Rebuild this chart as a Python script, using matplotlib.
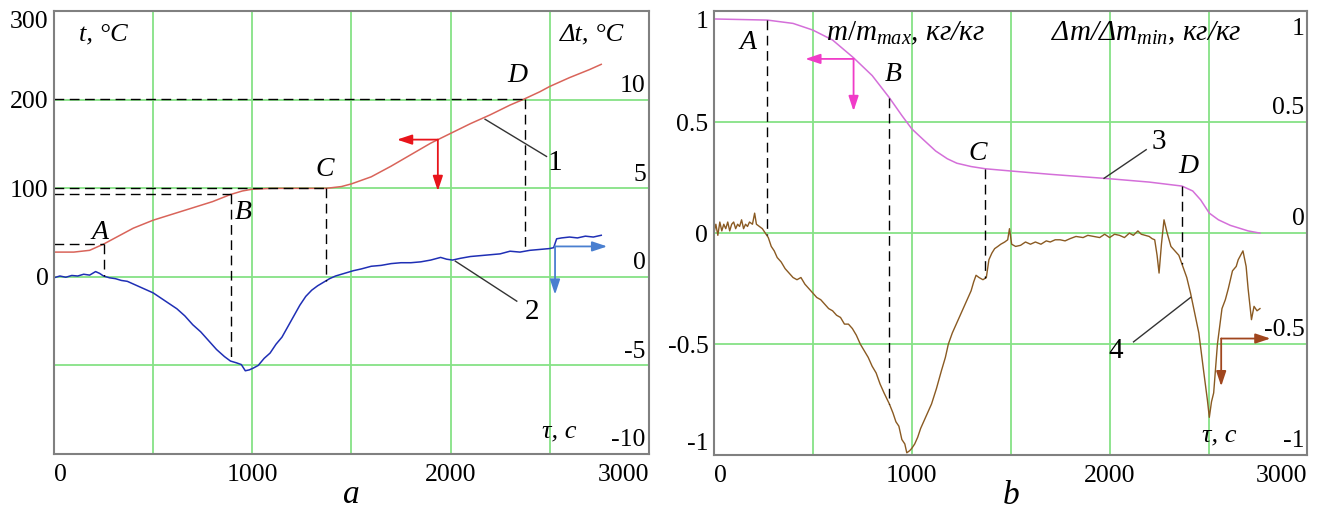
import numpy as np
import matplotlib.pyplot as plt

plt.rcParams['font.family'] = ['Liberation Serif', 'DejaVu Serif']
plt.rcParams['mathtext.fontset'] = 'custom'
plt.rcParams['mathtext.it'] = 'Liberation Serif:italic'
plt.rcParams['mathtext.rm'] = 'Liberation Serif'

# ---- panel a : temperature t (curve 1) and temperature difference dt (curve 2)
tau_t = [0, 100, 180, 250, 300, 400, 500, 600, 700, 800, 890, 950, 1000, 1100, 1200,
         1300, 1373, 1450, 1500, 1600, 1700, 1800, 1900, 2000, 2100, 2200, 2300, 2373,
         2450, 2500, 2600, 2700, 2760]
t_val = [28, 28, 30, 37, 43, 55, 64, 71, 78, 85, 93, 97, 99, 100, 100,
         100, 100, 102, 105, 113, 125, 138, 151, 162, 173, 183, 194, 201,
         209, 215, 225, 234, 240]

tau_dt = [0, 30, 60, 90, 120, 150, 180, 210, 230, 250, 280, 310, 340, 370, 400, 430,
          460, 500, 540, 580, 620, 660, 700, 740, 780, 820, 860, 890, 920, 945, 965,
          985, 1005, 1030, 1060, 1090, 1120, 1150, 1180, 1210, 1240, 1270, 1300, 1330,
          1360, 1390, 1420, 1450, 1480, 1510, 1550, 1600, 1650, 1700, 1750, 1800, 1850,
          1900, 1950, 1980, 2010, 2050, 2100, 2150, 2200, 2250, 2300, 2350, 2400, 2450,
          2500, 2520, 2535, 2560, 2600, 2640, 2680, 2720, 2760]
dt_val = [-0.05, 0.05, -0.02, 0.08, 0.05, 0.15, 0.1, 0.3, 0.2, 0.05, -0.05, -0.1,
          -0.2, -0.25, -0.4, -0.55, -0.7, -0.9, -1.2, -1.5, -1.8, -2.2, -2.7, -3.1,
          -3.6, -4.1, -4.5, -4.75, -4.85, -4.95, -5.3, -5.25, -5.15, -5.0, -4.6, -4.3,
          -3.8, -3.4, -2.8, -2.2, -1.6, -1.1, -0.75, -0.5, -0.3, -0.1, 0.05, 0.15, 0.25,
          0.35, 0.45, 0.6, 0.65, 0.75, 0.8, 0.8, 0.85, 0.95, 1.1, 1.0, 0.95, 1.05, 1.15,
          1.2, 1.25, 1.3, 1.45, 1.4, 1.5, 1.55, 1.6, 1.65, 2.15, 2.2, 2.25, 2.2, 2.3,
          2.25, 2.35]

# ---- panel b : relative mass (curve 3) and mass rate (curve 4)
tau_m = [0, 270, 400, 500, 600, 706, 800, 887, 950, 1000, 1060, 1121, 1180, 1228,
         1300, 1372, 1500, 1700, 1850, 2000, 2200, 2366, 2420, 2460, 2504, 2550,
         2610, 2700, 2760]
m_val = [0.965, 0.96, 0.945, 0.915, 0.87, 0.79, 0.71, 0.61, 0.53, 0.47, 0.42, 0.37,
         0.335, 0.315, 0.30, 0.29, 0.28, 0.265, 0.255, 0.245, 0.23, 0.212, 0.19, 0.15,
         0.09, 0.06, 0.035, 0.01, 0.0]

tau_dm = [0, 10, 20, 30, 40, 50, 60, 70, 80, 90, 100, 110, 120, 130, 140, 150, 160,
          170, 180, 195, 206, 215, 230, 245, 260, 275, 290, 305, 320, 340, 360, 380,
          400, 420, 440, 460, 480, 500, 520, 540, 560, 580, 600, 620, 640, 660, 680,
          700, 720, 740, 760, 780, 800, 820, 840, 860, 887, 905, 920, 935, 950, 965,
          975, 990, 1000, 1015, 1030, 1045, 1060, 1080, 1100, 1125, 1150, 1170, 1185,
          1205, 1230, 1255, 1280, 1300, 1313, 1325, 1340, 1360, 1377, 1390, 1405,
          1419, 1435, 1450, 1470, 1485, 1494, 1505, 1525, 1550, 1575, 1600, 1625,
          1653, 1680, 1700, 1725, 1750, 1775, 1800, 1830, 1866, 1890, 1920, 1950,
          1975, 2000, 2025, 2050, 2075, 2100, 2120, 2143, 2160, 2180, 2200, 2215,
          2228, 2240, 2250, 2262, 2275, 2291, 2310, 2330, 2350, 2366, 2390, 2409,
          2430, 2451, 2475, 2494, 2504, 2515, 2526, 2545, 2568, 2585, 2600, 2621,
          2640, 2650, 2674, 2690, 2700, 2717, 2730, 2745, 2760]
dm_val = [0.0, 0.04, -0.01, 0.05, 0.01, 0.04, 0.02, 0.05, 0.01, 0.04, 0.05, 0.02,
          0.04, 0.03, 0.06, 0.02, 0.04, 0.03, 0.05, 0.04, 0.09, 0.04, 0.03, 0.02,
          0.0, -0.02, -0.06, -0.08, -0.11, -0.13, -0.16, -0.18, -0.2, -0.21, -0.2,
          -0.23, -0.25, -0.27, -0.29, -0.3, -0.32, -0.34, -0.35, -0.37, -0.38,
          -0.41, -0.41, -0.43, -0.46, -0.5, -0.53, -0.56, -0.6, -0.63, -0.68, -0.72,
          -0.77, -0.81, -0.85, -0.87, -0.93, -0.95, -0.99, -0.98, -0.97, -0.95,
          -0.92, -0.88, -0.85, -0.81, -0.77, -0.7, -0.62, -0.56, -0.5, -0.45, -0.4,
          -0.35, -0.3, -0.26, -0.22, -0.19, -0.2, -0.21, -0.2, -0.12, -0.09, -0.07,
          -0.06, -0.05, -0.04, -0.03, 0.02, -0.05, -0.06, -0.055, -0.04, -0.05,
          -0.04, -0.05, -0.035, -0.04, -0.03, -0.03, -0.035, -0.025, -0.015, -0.02,
          -0.01, -0.015, -0.02, -0.005, -0.02, -0.005, -0.01, -0.02, 0.0, -0.01,
          0.01, -0.005, -0.01, -0.015, -0.025, -0.03, -0.1, -0.18, -0.05, 0.06, 0.0,
          -0.06, -0.08, -0.1, -0.14, -0.2, -0.27, -0.36, -0.45, -0.62, -0.75, -0.83,
          -0.76, -0.72, -0.5, -0.34, -0.3, -0.25, -0.17, -0.15, -0.12, -0.08, -0.15,
          -0.25, -0.39, -0.33, -0.35, -0.34]

point_names = ['A', 'B', 'C', 'D']
points_a = [250, 892, 1373, 2373]
points_b = [266, 887, 1372, 2366]

DT_SCALE = 20.0   # t = 20 * dt on panel a

GRID = '#86e286'
SPINE = '#808080'
TICK_FS = 18.5
LAB_FS = 19

fig = plt.figure(figsize=(13.22, 5.09), dpi=100)
ax = fig.add_axes([0.0408, 0.108, 0.450, 0.870])
bx = fig.add_axes([0.540, 0.106, 0.449, 0.872])

for a in (ax, bx):
    a.set_xlim(0, 3000)
    a.set_xticks(np.arange(0, 3001, 500))
    a.set_xticklabels(['0', '', '1000', '', '2000', '', '3000'], fontsize=TICK_FS)
    a.grid(True, color=GRID, lw=1.3)
    a.set_axisbelow(True)
    a.tick_params(length=0, pad=7)
    a.tick_params(axis='y', pad=4)
    for s in a.spines.values():
        s.set_color(SPINE)
        s.set_linewidth(1.5)
    xl = a.get_xticklabels()
    xl[0].set_ha('left')
    xl[-1].set_ha('right')

# ---------------- panel a
ax.set_ylim(-200, 300)
ax.set_yticks([-200, -100, 0, 100, 200, 300])
ax.set_yticklabels(['', '', '0', '100', '200', '300'], fontsize=TICK_FS)
ax.get_yticklabels()[-1].set_va('top')

ax.plot(tau_t, t_val, color='#d9645a', lw=1.1)
ax.plot(tau_dt, np.array(dt_val) * DT_SCALE, color='#1f2fb5', lw=1.1)

for lab in [10, 5, 0, -5, -10]:
    ax.text(2985, lab * DT_SCALE + 3, str(lab), ha='right', va='bottom', fontsize=TICK_FS)

red_pts = np.interp(points_a, tau_t, t_val)
blue_pts = np.interp(points_a, tau_dt, dt_val) * DT_SCALE
for name, tp, top, bot in zip(point_names, points_a, red_pts, blue_pts):
    ax.plot([0, tp], [top, top], color='k', lw=1, ls=(0, (7, 4)))
    ax.plot([tp, tp], [top, bot], color='k', lw=1, ls=(0, (7, 4)))

letter_tau_a = [233, 957, 1363, 2338]
letter_t_a = [50, 73, 121, 227]
for name, x, y in zip(point_names, letter_tau_a, letter_t_a):
    ax.text(x, y, name, ha='center', va='center', fontsize=LAB_FS + 1, style='italic')

ax.text(247, 274, 't, °C', ha='center', va='center', fontsize=LAB_FS, style='italic')
ax.text(2713, 274, 'Δt, °C', ha='center', va='center', fontsize=LAB_FS, style='italic')
ax.text(2547, -175, 'τ, с', ha='center', va='center', fontsize=LAB_FS, style='italic')
ax.text(0.5, -0.11, 'a', transform=ax.transAxes, ha='center', va='baseline',
        fontsize=24, style='italic')

# curve numbers
ax.plot([2174, 2484], [178, 136], color='#333333', lw=1)
ax.text(2527, 129, '1', ha='center', va='center', fontsize=LAB_FS + 2)
ax.plot([2024, 2334], [0.89 * DT_SCALE, -1.37 * DT_SCALE], color='#333333', lw=1)
ax.text(2410, -2.0 * DT_SCALE, '2', ha='center', va='center', fontsize=LAB_FS + 2)

# axis direction arrows
arrow = dict(arrowstyle='-|>,head_length=0.9,head_width=0.3', lw=1.3,
             shrinkA=0, shrinkB=0)
ax.annotate('', xy=(1730, 155), xytext=(1936, 155),
            arrowprops=dict(arrow, color='#e8141b'))
ax.annotate('', xy=(1936, 97), xytext=(1936, 155),
            arrowprops=dict(arrow, color='#e8141b'))
ax.annotate('', xy=(2790, 1.72 * DT_SCALE), xytext=(2527, 1.72 * DT_SCALE),
            arrowprops=dict(arrow, color='#4a7fd0'))
ax.annotate('', xy=(2527, -1.0 * DT_SCALE), xytext=(2527, 1.72 * DT_SCALE),
            arrowprops=dict(arrow, color='#4a7fd0'))

# ---------------- panel b
bx.set_ylim(-1, 1)
bx.set_yticks([-1, -0.5, 0, 0.5, 1])
bx.set_yticklabels(['-1', '-0.5', '0', '0.5', '1'], fontsize=TICK_FS)
bl = bx.get_yticklabels()
bl[0].set_va('bottom')
bl[-1].set_va('top')

bx.plot(tau_m, m_val, color='#d46fd9', lw=1.1)
bx.plot(tau_dm, dm_val, color='#8a5a22', lw=1.0)

for lab, txt in zip([0.5, 0, -0.5, -1], ['0.5', '0', '-0.5', '-1']):
    bx.text(2985, lab + 0.015, txt, ha='right', va='bottom', fontsize=TICK_FS)
bx.text(2985, 0.97, '1', ha='right', va='top', fontsize=TICK_FS)

pink_pts = np.interp(points_b, tau_m, m_val)
brown_pts = np.interp(points_b, tau_dm, dm_val)
for tp, top, bot in zip(points_b, pink_pts, brown_pts):
    bx.plot([tp, tp], [top, bot], color='k', lw=1, ls=(0, (7, 4)))

letter_tau_b = [174, 909, 1334, 2398]
letter_v_b = [0.86, 0.717, 0.36, 0.30]
for name, x, y in zip(point_names, letter_tau_b, letter_v_b):
    bx.text(x, y, name, ha='center', va='center', fontsize=LAB_FS + 1, style='italic')

bx.text(970, 0.90, '$m/m_{max}$, кг/кг', ha='center', va='center',
        fontsize=21, style='italic')
bx.text(2185, 0.90, 'Δ$m$/Δ$m_{min}$, кг/кг', ha='center', va='center',
        fontsize=21, style='italic')
bx.text(2555, -0.91, 'τ, с', ha='center', va='center', fontsize=LAB_FS, style='italic')
bx.text(0.5, -0.11, 'b', transform=bx.transAxes, ha='center', va='baseline',
        fontsize=24, style='italic')

bx.plot([1972, 2185], [0.247, 0.376], color='#333333', lw=1)
bx.text(2249, 0.41, '3', ha='center', va='center', fontsize=LAB_FS + 2)
bx.plot([2121, 2409], [-0.49, -0.29], color='#333333', lw=1)
bx.text(2032, -0.53, '4', ha='center', va='center', fontsize=LAB_FS + 2)

bx.annotate('', xy=(462, 0.785), xytext=(706, 0.785),
            arrowprops=dict(arrow, color='#f03cc8'))
bx.annotate('', xy=(706, 0.55), xytext=(706, 0.785),
            arrowprops=dict(arrow, color='#f03cc8'))
bx.annotate('', xy=(2813, -0.475), xytext=(2564, -0.475),
            arrowprops=dict(arrow, color='#a0461e'))
bx.annotate('', xy=(2564, -0.69), xytext=(2564, -0.475),
            arrowprops=dict(arrow, color='#a0461e'))

fig.savefig('out.png', dpi=100)
